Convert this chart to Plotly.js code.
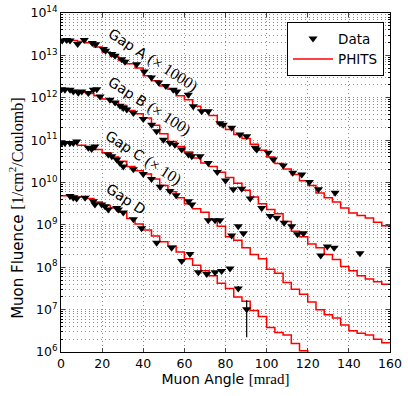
<!DOCTYPE html>
<html>
<head>
<meta charset="utf-8">
<script src="https://cdn.plot.ly/plotly-3.0.1.min.js"></script>
<style>html,body{margin:0;padding:0;background:#fff;}#chart{width:408px;height:396px;}</style>
</head>
<body>
<div id="chart"></div>
<script>
// PHITS histogram bin edges [mrad]
const binEdges = [0,4,8,12,16,20,24,28,32,36,40,44,48,52,56,60,64,68,72,76,80,84,88,92,96,100,104,108,112,116,120,124,128,132,136,140,144,148,152,156,160];

// PHITS, log10 of plotted fluence per bin (already scaled by x1000, x100, x10, x1)
const phitsA_log = [13.36,13.35,13.33,13.30,13.20,13.08,12.98,12.88,12.80,12.70,12.52,12.40,12.28,12.20,12.05,11.95,11.80,11.68,11.58,11.38,11.25,11.13,11.04,10.90,10.76,10.60,10.45,10.32,10.19,10.04,9.93,9.75,9.64,9.54,9.40,9.28,9.22,9.16,9.06,8.98];
const phitsB_log = [12.20,12.17,12.13,12.10,12.05,11.97,11.90,11.82,11.70,11.62,11.52,11.35,11.15,10.97,10.85,10.72,10.58,10.46,10.38,10.24,10.12,9.98,9.82,9.66,9.50,9.36,9.26,9.08,8.85,8.72,8.55,8.46,8.30,8.18,8.02,7.92,7.80,7.72,7.66,7.60];
const phitsC_log = [10.93,10.93,10.88,10.84,10.78,10.70,10.60,10.50,10.38,10.28,10.20,10.08,9.93,9.78,9.64,9.50,9.38,9.30,9.12,8.97,8.72,8.64,8.46,8.30,8.20,7.95,7.86,7.64,7.48,7.36,7.18,7.00,6.88,6.80,6.64,6.50,6.44,6.40,6.30,6.22];
const phitsD_log = [9.69,9.69,9.66,9.62,9.54,9.46,9.40,9.30,9.15,9.02,8.88,8.74,8.60,8.50,8.36,8.20,8.05,7.92,7.80,7.62,7.50,7.30,7.20,6.98,6.84,6.58,6.46,6.40,6.20,6.03,5.90];

// Measured data: angle [mrad] and log10 of plotted fluence
const dataA_angle = [0.6,2.8,4.4,8.1,11.3,15.2,16.9,20.6,21.7,24.7,26.3,29.5,31.1,36.8,40.5,44.0,47.5,51.0,54.6,56.3,61.9,64.3,68.4,71.6,77.3,78.9,83.0,87.0,90.3,94.4,95.2,100.8,103.3,108.1,112.7,117.1,120.8,125.2,133.3];
const dataA_log   = [13.35,13.36,13.35,13.27,13.36,13.29,13.26,13.15,13.11,13.03,12.99,12.91,12.85,12.79,12.62,12.48,12.36,12.28,12.19,12.15,12.07,11.80,11.68,11.68,11.40,11.36,11.29,11.13,11.09,10.82,10.78,10.70,10.54,10.40,10.23,10.19,10.01,9.84,9.76];

const dataB_angle = [0.3,1.9,4.4,6.0,8.4,10.1,13.3,15.7,17.4,19.0,23.8,26.3,28.7,30.3,32.0,35.2,40.0,44.1,46.5,49.8,53.0,55.4,58.7,62.0,63.6,67.6,71.6,76.0,80.0,83.8,87.9,92.0,97.6,101.7,104.9,108.5,112.2,115.0,117.9,126.3,129.5,132.8,145.4];
const dataB_log   = [12.20,12.19,12.19,12.15,12.12,12.15,12.11,12.19,12.20,12.03,11.95,11.89,11.81,11.76,11.72,11.64,11.50,11.36,11.21,11.01,10.93,10.89,10.78,10.66,10.62,10.62,10.46,10.25,10.05,9.84,9.85,9.62,9.40,9.21,9.17,9.05,8.97,8.78,8.80,8.28,8.49,8.46,8.33];

const dataC_angle = [0.3,1.9,4.4,6.0,7.6,13.3,14.9,16.5,23.0,24.7,27.1,28.7,30.3,35.2,40.0,44.0,48.2,53.0,56.0,62.0,63.6,71.6,74.9,77.3,83.0,86.2,88.7];
const dataC_log   = [10.93,10.93,10.93,10.93,10.97,10.82,10.79,10.85,10.66,10.62,10.54,10.46,10.38,10.31,10.20,10.08,9.90,9.80,9.70,9.56,9.48,9.11,9.11,9.11,8.75,8.97,8.80];

const dataD_angle = [4.4,6.0,7.6,11.7,15.7,16.5,19.8,21.4,23.0,27.1,27.9,30.3,35.2,39.2,46.5,53.8,58.7,62.7,66.8,70.9,74.9,78.1,82.2,86.2,90.3];
const dataD_log   = [9.68,9.64,9.62,9.64,9.56,9.48,9.48,9.44,9.36,9.40,9.36,9.29,9.13,8.92,8.58,8.46,8.15,8.31,7.88,7.84,7.88,7.91,7.97,7.50,7.01];
// error bar ends (log10) for Gap D, null where no visible bar
const dataD_errHi_log = [null,null,null,null,null,null,null,null,null,null,null,null,null,null,null,null,null,null,null,null,null,null,null,7.56,7.22];
const dataD_errLo_log = [null,null,null,null,null,null,null,null,null,null,null,null,null,null,null,null,null,null,null,null,null,null,null,7.44,6.35];

const yTickVals = [1e6,1e7,1e8,1e9,1e10,1e11,1e12,1e13,1e14];
const yTickText = ['10<sup>6</sup>','10<sup>7</sup>','10<sup>8</sup>','10<sup>9</sup>','10<sup>10</sup>','10<sup>11</sup>','10<sup>12</sup>','10<sup>13</sup>','10<sup>14</sup>'];
const xTickVals = [0,20,40,60,80,100,120,140,160];

const gapLabels = ['Gap A', 'Gap B', 'Gap C', 'Gap D'];
const gapScales = ['(× 1000)', '(× 100)', '(× 10)', ''];

// ---- build traces ----
const toVal = a => a.map(v => v === null ? null : Math.pow(10, v));
function stepXY(logs) {
  const vals = toVal(logs);
  const x = binEdges.slice(0, vals.length + 1);
  const y = vals.concat([vals[vals.length - 1]]);
  return {x, y};
}
const phits = [phitsA_log, phitsB_log, phitsC_log, phitsD_log];
const dataX = [dataA_angle, dataB_angle, dataC_angle, dataD_angle];
const dataY = [dataA_log, dataB_log, dataC_log, dataD_log];

const traces = [];
phits.forEach((p, i) => {
  const s = stepXY(p);
  traces.push({
    x: s.x, y: s.y, type: 'scatter', mode: 'lines',
    line: {shape: 'hv', color: '#ff0000', width: 1.5},
    name: 'PHITS', legendgroup: 'phits', showlegend: i === 0, legendrank: 2,
    hoverinfo: 'skip'
  });
});
dataX.forEach((xs, i) => {
  const yv = toVal(dataY[i]);
  const t = {
    x: xs, y: yv, type: 'scatter', mode: 'markers',
    marker: {symbol: 'triangle-down', size: 8, color: '#000'},
    name: 'Data', legendgroup: 'data', showlegend: i === 0, legendrank: 1
  };
  if (i === 3) {
    const hi = toVal(dataD_errHi_log), lo = toVal(dataD_errLo_log);
    t.error_y = {
      type: 'data', symmetric: false,
      array: yv.map((v, k) => hi[k] === null ? 0 : hi[k] - v),
      arrayminus: yv.map((v, k) => lo[k] === null ? 0 : v - lo[k]),
      color: '#000', thickness: 1.2, width: 0
    };
  }
  traces.push(t);
});

const serif15 = 'font-family:Liberation Serif;font-size:15px';
const serif16 = 'font-family:Liberation Serif;font-size:16px';
const labelPos = [[44.8, 12.90], [43.0, 11.80], [40.3, 10.58], [31.6, 9.60]];
const annotations = gapLabels.map((g, i) => ({
  x: labelPos[i][0], y: labelPos[i][1], xref: 'x', yref: 'y',
  text: g + (gapScales[i] ? ' <span style="' + serif16 + '">' + gapScales[i] + '</span>' : ''),
  showarrow: false, textangle: 33,
  font: {family: 'DejaVu Sans', size: 14, color: '#000'}
}));
// y-axis title (placed as annotation to match reference offset)
annotations.push({
  xref: 'paper', yref: 'paper', x: -0.134, y: 0.425, xanchor: 'center', yanchor: 'middle',
  textangle: -90, showarrow: false,
  text: 'Muon Fluence <span style="' + serif16 + '">[1/cm<sup>2</sup>/Coulomb]</span>',
  font: {family: 'DejaVu Sans', size: 15, color: '#000'}
});

const gridCommon = {gridcolor: 'rgba(0,0,0,0.65)', griddash: '1px,3px', gridwidth: 0.7};

const layout = {
  width: 408, height: 396,
  margin: {l: 61, r: 18, t: 13, b: 44, pad: 0},
  paper_bgcolor: '#fff', plot_bgcolor: '#fff',
  font: {family: 'DejaVu Sans', size: 12, color: '#000'},
  showlegend: true,
  legend: {
    x: 0.687, y: 0.973, xanchor: 'left', yanchor: 'top',
    bgcolor: '#fff', bordercolor: '#000', borderwidth: 1,
    font: {family: 'DejaVu Sans', size: 13.5, color: '#000'},
    itemwidth: 40, tracegroupgap: 0
  },
  xaxis: {
    range: [0, 160], tickvals: xTickVals, ticks: 'inside', ticklen: 4,
    showline: true, linecolor: '#000', linewidth: 1, mirror: 'ticks',
    showgrid: true, ...gridCommon, zeroline: false,
    tickfont: {size: 12.5},
    title: {text: 'Muon Angle <span style="' + serif15 + '">[mrad]</span>', font: {size: 14}, standoff: 4}
  },
  yaxis: {
    type: 'log', range: [6, 14], tickvals: yTickVals, ticktext: yTickText,
    ticks: 'inside', ticklen: 4,
    showline: true, linecolor: '#000', linewidth: 1, mirror: 'ticks',
    showgrid: true, ...gridCommon, zeroline: false,
    tickfont: {size: 12.5},
    minor: {
      tickmode: 'array',
      tickvals: (() => { const v = []; for (let e = 6; e < 14; e++) for (let d = 2; d <= 9; d++) v.push(d * Math.pow(10, e)); return v; })(),
      ticks: 'inside', ticklen: 2, tickcolor: '#000',
      showgrid: true, ...gridCommon
    }
  },
  annotations: annotations
};

Plotly.newPlot('chart', traces, layout, {displayModeBar: false, staticPlot: true});
</script>
</body>
</html>
